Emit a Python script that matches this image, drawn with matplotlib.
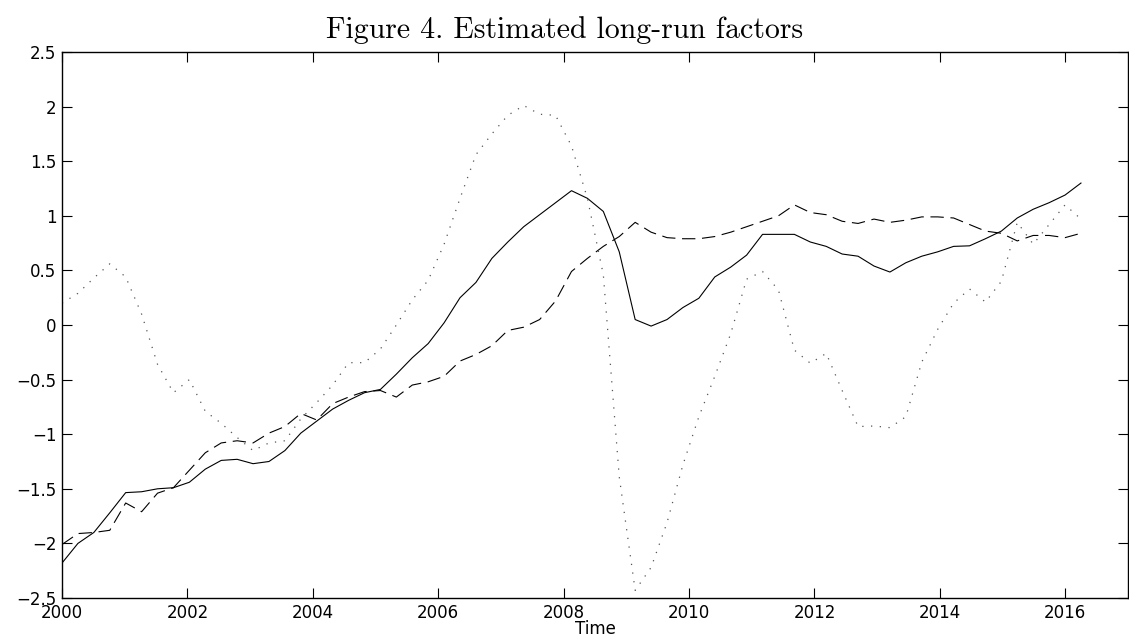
import numpy as np
import matplotlib
matplotlib.use("Agg")
import matplotlib.pyplot as plt
from matplotlib.ticker import FuncFormatter

# quarterly sample, 2000Q1 .. 2016Q1 (65 obs) spread over 2000-2016.25
dates = np.linspace(2000, 2016.25, 65)

factor1 = [-2.18, -2.00, -1.90, -1.72, -1.535, -1.527, -1.50, -1.49, -1.44, -1.32,
           -1.24, -1.23, -1.27, -1.25, -1.15, -0.99, -0.88, -0.77, -0.69, -0.62,
           -0.59, -0.45, -0.30, -0.17, 0.02, 0.25, 0.39, 0.61, 0.76, 0.90,
           1.01, 1.12, 1.23, 1.16, 1.04, 0.67, 0.05, -0.01, 0.05, 0.16,
           0.245, 0.44, 0.53, 0.64, 0.83, 0.83, 0.83, 0.76, 0.72, 0.65,
           0.63, 0.54, 0.485, 0.57, 0.63, 0.67, 0.72, 0.725, 0.79, 0.86,
           0.98, 1.06, 1.12, 1.19, 1.30]

factor2 = [-2.01, -1.91, -1.90, -1.88, -1.63, -1.71, -1.54, -1.49, -1.33, -1.17,
           -1.08, -1.06, -1.08, -0.99, -0.93, -0.81, -0.87, -0.72, -0.66, -0.61,
           -0.60, -0.66, -0.55, -0.52, -0.47, -0.33, -0.27, -0.19, -0.05, -0.02,
           0.05, 0.22, 0.49, 0.61, 0.72, 0.81, 0.94, 0.85, 0.80, 0.79,
           0.79, 0.81, 0.85, 0.90, 0.95, 1.00, 1.10, 1.03, 1.01, 0.95,
           0.93, 0.97, 0.94, 0.96, 0.99, 0.99, 0.98, 0.92, 0.86, 0.84,
           0.77, 0.82, 0.82, 0.80, 0.84]

factor3 = [0.20, 0.29, 0.43, 0.56, 0.44, 0.10, -0.36, -0.62, -0.50, -0.79,
           -0.90, -1.03, -1.15, -1.08, -1.06, -0.86, -0.71, -0.55, -0.345, -0.345,
           -0.22, 0.00, 0.23, 0.41, 0.74, 1.16, 1.56, 1.75, 1.92, 2.01,
           1.93, 1.92, 1.64, 1.16, 0.46, -1.39, -2.43, -2.22, -1.81, -1.28,
           -0.84, -0.47, -0.08, 0.42, 0.49, 0.32, -0.23, -0.35, -0.26, -0.60,
           -0.93, -0.925, -0.94, -0.84, -0.34, -0.04, 0.20, 0.33, 0.21, 0.40,
           0.94, 0.74, 0.92, 1.10, 0.97]

xticks = list(range(2000, 2017, 2))
yticks = np.arange(-2.5, 2.51, 0.5)

fig = plt.figure(figsize=(11.29, 6.39), dpi=100)
ax = fig.add_axes([62 / 1129, 1 - 598 / 639, 1066 / 1129, 546 / 639])

ax.plot(dates, factor1, color="black", lw=0.8, linestyle="-")
ax.plot(dates, factor2, color="black", lw=0.8, linestyle=(0, (12, 6)))
ax.plot(dates, factor3, color="#555555", lw=0.9, linestyle=(0, (1, 6)))

ax.set_xlim(2000, 2017)
ax.set_ylim(-2.5, 2.5)
ax.set_xticks(xticks)
ax.set_yticks(yticks)
ax.yaxis.set_major_formatter(FuncFormatter(lambda v, p: ("%g" % v).replace("-", "\u2212")))
ax.tick_params(direction="in", length=7, width=0.8, top=True, right=True,
               labelsize=12, pad=4)
for lab in ax.get_xticklabels() + ax.get_yticklabels():
    lab.set_fontfamily("DejaVu Sans")
for s in ax.spines.values():
    s.set_linewidth(1.0)

ax.set_xlabel("Time", fontfamily="DejaVu Sans", fontsize=12, labelpad=-1)

fig.text(0.5, 1 - 30 / 639, "Figure 4. Estimated long-run factors", ha="center", va="center",
         fontfamily="cmr10", fontsize=21.5)

fig.savefig("out.png", dpi=100)
